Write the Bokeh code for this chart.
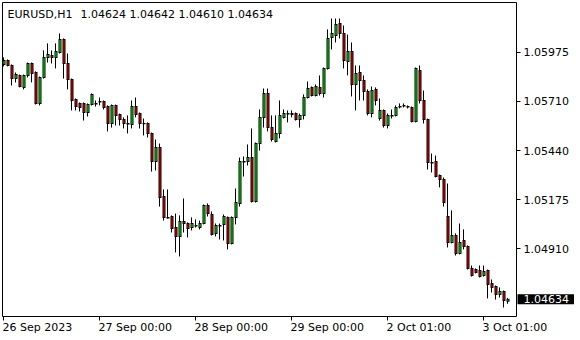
from bokeh.plotting import figure
from bokeh.models import Range1d, FixedTicker, Label, ColumnDataSource, PrintfTickFormatter, LinearAxis
from bokeh.transform import dodge
from bokeh.embed import file_html
from bokeh.resources import INLINE

symbol = "EURUSD,H1"
last_ohlc = "1.04624 1.04642 1.04610 1.04634"
last_price = 1.04634

opens = [1.05910, 1.05931, 1.05904, 1.05833, 1.05850, 1.05785, 1.05850, 1.05915, 1.05866, 1.05698,
         1.05839, 1.05948, 1.05958, 1.05948, 1.05975, 1.06045, 1.05915, 1.05828, 1.05719, 1.05698,
         1.05698, 1.05649, 1.05692, 1.05698, 1.05706, 1.05709, 1.05681, 1.05589, 1.05687, 1.05638,
         1.05611, 1.05589, 1.05584, 1.05681, 1.05643, 1.05589, 1.05589, 1.05535, 1.05383, 1.05459,
         1.05193, 1.05079, 1.05084, 1.05024, 1.04976, 1.05057, 1.05046, 1.05024, 1.05035, 1.05024,
         1.05046, 1.05144, 1.05095, 1.04992, 1.05035, 1.05041, 1.05079, 1.04938, 1.05079, 1.05155,
         1.05383, 1.05383, 1.05404, 1.05166, 1.05480, 1.05622, 1.05752, 1.05567, 1.05491, 1.05535,
         1.05622, 1.05643, 1.05638, 1.05643, 1.05611, 1.05633, 1.05730, 1.05785, 1.05741, 1.05785,
         1.05752, 1.05888, 1.06056, 1.06067, 1.06132, 1.06078, 1.05926, 1.05980, 1.05801, 1.05866,
         1.05823, 1.05763, 1.05643, 1.05774, 1.05616, 1.05660, 1.05578, 1.05633, 1.05633, 1.05681,
         1.05684, 1.05681, 1.05676, 1.05600, 1.05877, 1.05714, 1.05611, 1.05377, 1.05383, 1.05307,
         1.05285, 1.05084, 1.04943, 1.04981, 1.04883, 1.04954, 1.04921, 1.04802, 1.04796, 1.04791,
         1.04764, 1.04791, 1.04720, 1.04704, 1.04661, 1.04677, 1.04624]
highs = [1.05948, 1.05937, 1.05910, 1.05866, 1.05855, 1.05855, 1.05920, 1.05920, 1.05872, 1.05844,
         1.05986, 1.06024, 1.05986, 1.06024, 1.06078, 1.06051, 1.05969, 1.05833, 1.05725, 1.05703,
         1.05703, 1.05698, 1.05752, 1.05714, 1.05730, 1.05714, 1.05687, 1.05692, 1.05692, 1.05643,
         1.05622, 1.05633, 1.05714, 1.05730, 1.05649, 1.05616, 1.05595, 1.05540, 1.05502, 1.05480,
         1.05231, 1.05231, 1.05090, 1.05100, 1.05090, 1.05182, 1.05052, 1.05079, 1.05068, 1.05062,
         1.05149, 1.05155, 1.05111, 1.05046, 1.05046, 1.05095, 1.05084, 1.05084, 1.05236, 1.05404,
         1.05410, 1.05475, 1.05562, 1.05486, 1.05665, 1.05779, 1.05779, 1.05633, 1.05633, 1.05714,
         1.05665, 1.05660, 1.05660, 1.05649, 1.05643, 1.05747, 1.05817, 1.05790, 1.05801, 1.05850,
         1.05893, 1.06100, 1.06159, 1.06159, 1.06159, 1.06121, 1.06072, 1.06029, 1.05904, 1.05904,
         1.05850, 1.05774, 1.05790, 1.05785, 1.05725, 1.05665, 1.05643, 1.05665, 1.05687, 1.05698,
         1.05698, 1.05687, 1.05681, 1.05893, 1.05904, 1.05768, 1.05616, 1.05426, 1.05415, 1.05312,
         1.05296, 1.05263, 1.05117, 1.04992, 1.05046, 1.05014, 1.04927, 1.04818, 1.04802, 1.04818,
         1.04818, 1.04796, 1.04742, 1.04709, 1.04699, 1.04682, 1.04642]
lows = [1.05899, 1.05899, 1.05795, 1.05812, 1.05785, 1.05774, 1.05839, 1.05812, 1.05692, 1.05687,
        1.05833, 1.05920, 1.05915, 1.05888, 1.05969, 1.05833, 1.05774, 1.05660, 1.05660, 1.05654,
        1.05605, 1.05627, 1.05687, 1.05681, 1.05687, 1.05665, 1.05546, 1.05567, 1.05578, 1.05578,
        1.05562, 1.05535, 1.05562, 1.05622, 1.05562, 1.05524, 1.05513, 1.05328, 1.05334, 1.05138,
        1.05062, 1.05073, 1.04997, 1.04889, 1.04867, 1.04997, 1.04970, 1.05008, 1.05024, 1.05014,
        1.05041, 1.05084, 1.04981, 1.04976, 1.04959, 1.04954, 1.04905, 1.04932, 1.05041, 1.05138,
        1.05301, 1.05361, 1.05160, 1.05160, 1.05442, 1.05567, 1.05546, 1.05491, 1.05486, 1.05508,
        1.05616, 1.05595, 1.05622, 1.05605, 1.05567, 1.05611, 1.05725, 1.05736, 1.05736, 1.05741,
        1.05730, 1.05882, 1.05991, 1.06029, 1.06051, 1.05888, 1.05850, 1.05736, 1.05660, 1.05714,
        1.05714, 1.05633, 1.05622, 1.05687, 1.05605, 1.05567, 1.05562, 1.05616, 1.05627, 1.05671,
        1.05676, 1.05671, 1.05595, 1.05595, 1.05698, 1.05589, 1.05339, 1.05323, 1.05296, 1.05242,
        1.05138, 1.04916, 1.04938, 1.04872, 1.04878, 1.04905, 1.04796, 1.04758, 1.04775, 1.04753,
        1.04758, 1.04639, 1.04671, 1.04633, 1.04644, 1.04590, 1.04610]
closes = [1.05931, 1.05904, 1.05833, 1.05855, 1.05790, 1.05850, 1.05915, 1.05861, 1.05698, 1.05839,
          1.05948, 1.05964, 1.05948, 1.05980, 1.06045, 1.05915, 1.05828, 1.05714, 1.05681, 1.05676,
          1.05649, 1.05692, 1.05747, 1.05695, 1.05709, 1.05676, 1.05589, 1.05687, 1.05633, 1.05611,
          1.05589, 1.05586, 1.05681, 1.05638, 1.05589, 1.05587, 1.05535, 1.05383, 1.05459, 1.05187,
          1.05079, 1.05076, 1.05019, 1.04976, 1.05057, 1.05046, 1.05019, 1.05046, 1.05033, 1.05046,
          1.05144, 1.05100, 1.04986, 1.05035, 1.05033, 1.05084, 1.04938, 1.05079, 1.05160, 1.05383,
          1.05380, 1.05404, 1.05166, 1.05480, 1.05622, 1.05752, 1.05567, 1.05502, 1.05535, 1.05633,
          1.05643, 1.05640, 1.05643, 1.05611, 1.05633, 1.05730, 1.05779, 1.05741, 1.05790, 1.05752,
          1.05888, 1.06051, 1.06078, 1.06127, 1.06078, 1.05931, 1.05980, 1.05801, 1.05861, 1.05823,
          1.05763, 1.05643, 1.05768, 1.05714, 1.05660, 1.05578, 1.05633, 1.05630, 1.05676, 1.05678,
          1.05687, 1.05678, 1.05600, 1.05888, 1.05714, 1.05611, 1.05377, 1.05374, 1.05301, 1.05285,
          1.05160, 1.04943, 1.04981, 1.04883, 1.04943, 1.04921, 1.04802, 1.04764, 1.04780, 1.04758,
          1.04785, 1.04715, 1.04699, 1.04661, 1.04677, 1.04628, 1.04634]

price_ticks = [1.05975, 1.05710, 1.05440, 1.05175, 1.04910]
time_tick_bars = [0, 24, 48, 72, 96, 120]
time_tick_labels = ["26 Sep 2023", "27 Sep 00:00", "28 Sep 00:00", "29 Sep 00:00", "2 Oct 01:00", "3 Oct 01:00"]

FONT = "DejaVu Sans"
BULL = "#00ff00"
BEAR = "#ff0000"

W, H = 580, 340
# plot area (bars / price window) and its pixel size inside the canvas
X0, X1 = -0.25, 128.25
Y0, Y1 = 1.04541, 1.06246
AREA_L, AREA_T, AREA_W, AREA_H = 2, 2, 514, 314
BAR_PX = AREA_W / (X1 - X0)            # pixels per bar
PX = (Y1 - Y0) / AREA_H                # one pixel in price units
# the canvas-wide ranges that keep this plot area where it belongs
XR0 = X0 - AREA_L / BAR_PX
XR1 = XR0 + W / BAR_PX
YR1 = Y1 + AREA_T * PX
YR0 = YR1 - H * PX

idx = list(range(len(opens)))
tops = [max(a, b) for a, b in zip(opens, closes)]
bots = [min(a, b) for a, b in zip(opens, closes)]
cols = [BULL if c >= o else BEAR for o, c in zip(opens, closes)]

body_src = ColumnDataSource(dict(x=idx, l=lows, h=highs,
                                 top=[t + PX / 2 for t in tops],
                                 bottom=[b - PX / 2 for b in bots]))
inner = [(i, t - PX / 2, b + PX / 2, c) for i, t, b, c in zip(idx, tops, bots, cols) if t - b > 1.2 * PX]
inner_src = ColumnDataSource(dict(x=[r[0] for r in inner], top=[r[1] for r in inner],
                                  bottom=[r[2] for r in inner], color=[r[3] for r in inner]))

p = figure(width=W, height=H, output_backend="svg", toolbar_location=None,
           x_range=Range1d(XR0, XR1), y_range=Range1d(YR0, YR1),
           x_axis_location=None, y_axis_location=None,
           min_border=0)
p.grid.visible = False
p.outline_line_color = None
p.background_fill_color = "white"
p.border_fill_color = "white"

# plot area frame
p.quad(left=[X0], right=[X1], bottom=[Y0], top=[Y1], fill_color=None, line_color="black", line_width=1)

half_px = 0.5 / BAR_PX
p.segment(x0="x", y0="l", x1="x", y1="h", source=body_src, line_color="black", line_width=1)
p.vbar(x=dodge("x", half_px), width=3 / BAR_PX, top="top", bottom="bottom", source=body_src,
       fill_color="black", line_color=None)
p.vbar(x=dodge("x", half_px), width=1 / BAR_PX, top="top", bottom="bottom", source=inner_src,
       fill_color="color", line_color=None)

# price scale on the right edge of the plot area
yaxis = LinearAxis(fixed_location=X1, ticker=FixedTicker(ticks=price_ticks),
                   formatter=PrintfTickFormatter(format="%.5f"),
                   axis_line_color=None, minor_tick_line_color=None,
                   major_tick_line_color="black", major_tick_out=4, major_tick_in=0,
                   major_label_standoff=3,
                   major_label_text_font=FONT, major_label_text_font_size="11px",
                   major_label_text_color="black")
p.add_layout(yaxis, "right")

# time scale on the bottom edge of the plot area (tick marks; labels are left-aligned texts)
xaxis = LinearAxis(fixed_location=Y0, ticker=FixedTicker(ticks=time_tick_bars),
                   major_label_overrides={b: "" for b in time_tick_bars},
                   axis_line_color=None, minor_tick_line_color=None,
                   major_tick_line_color="black", major_tick_out=4, major_tick_in=0,
                   major_label_text_font_size="11px")
p.add_layout(xaxis, "below")

for b, t in zip(time_tick_bars, time_tick_labels):
    p.add_layout(Label(x=b, y=Y0, x_offset=-1, y_offset=-11, text=t,
                       text_font=FONT, text_font_size="11px", text_color="black",
                       text_baseline="middle", text_align="left"))

p.add_layout(Label(x=X0, y=Y1, x_offset=5, y_offset=-5, text=symbol,
                   text_font=FONT, text_font_size="11px", text_color="black",
                   text_baseline="top", text_align="left"))
p.add_layout(Label(x=X0, y=Y1, x_offset=78, y_offset=-5, text=last_ohlc,
                   text_font=FONT, text_font_size="11px", text_color="black",
                   text_baseline="top", text_align="left"))

# current price box on the price scale
p.add_layout(Label(x=X1, y=last_price, x_offset=1, text=f"{last_price:.5f}",
                   text_font=FONT, text_font_size="11px", text_color="white",
                   background_fill_color="black", background_fill_alpha=1.0,
                   padding=dict(left=6, right=5, top=1, bottom=1),
                   text_baseline="middle", text_align="left"))

open("out.html", "w").write(file_html(p, INLINE))
